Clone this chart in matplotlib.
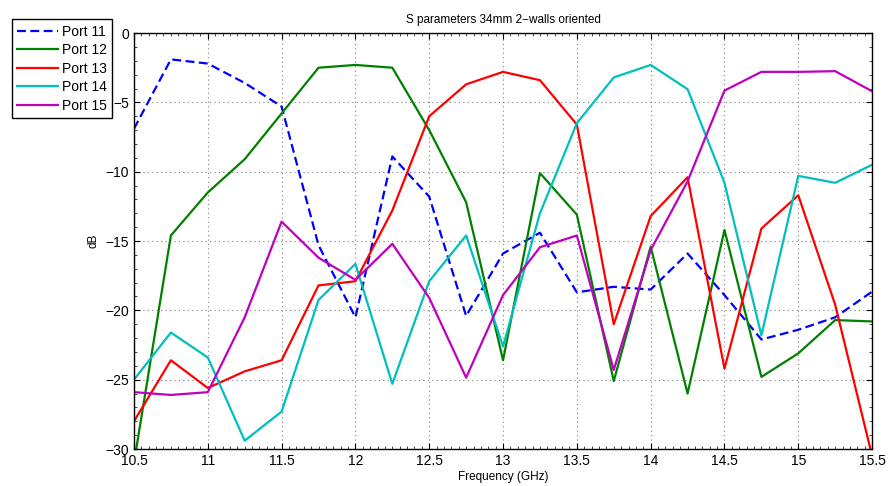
import matplotlib
matplotlib.use("Agg")
import matplotlib.pyplot as plt
from matplotlib.ticker import AutoMinorLocator

plt.rcParams["font.family"] = ["Liberation Sans", "DejaVu Sans"]

freq = [10.5, 10.75, 11, 11.25, 11.5, 11.75, 12, 12.25, 12.5, 12.75, 13,
        13.25, 13.5, 13.75, 14, 14.25, 14.5, 14.75, 15, 15.25, 15.5]

port11 = [-6.9, -1.9, -2.2, -3.6, -5.3, -15.3, -20.5, -8.9, -11.8, -20.4, -15.9,
          -14.4, -18.7, -18.3, -18.5, -15.9, -18.9, -22.1, -21.4, -20.5, -18.65]
port12 = [-31.0, -14.6, -11.5, -9.1, -5.8, -2.5, -2.3, -2.5, -7.0, -12.2, -23.6,
          -10.1, -13.1, -25.1, -15.4, -26.0, -14.2, -24.8, -23.1, -20.7, -20.8]
port13 = [-28.0, -23.6, -25.6, -24.4, -23.6, -18.2, -17.9, -12.8, -6.0, -3.7, -2.8,
          -3.4, -6.6, -21.0, -13.2, -10.4, -24.2, -14.1, -11.7, -19.6, -30.5]
port14 = [-25.0, -21.6, -23.4, -29.4, -27.3, -19.25, -16.65, -25.3, -17.9, -14.6, -22.6,
          -13.0, -6.5, -3.2, -2.3, -4.05, -10.8, -21.8, -10.3, -10.8, -9.5]
port15 = [-25.9, -26.1, -25.9, -20.5, -13.6, -16.2, -17.8, -15.2, -19.1, -24.85, -18.9,
          -15.45, -14.6, -24.3, -15.65, -10.7, -4.15, -2.8, -2.8, -2.75, -4.2]

x_ticks = [10.5, 11, 11.5, 12, 12.5, 13, 13.5, 14, 14.5, 15, 15.5]
y_ticks = [-30, -25, -20, -15, -10, -5, 0]

fig = plt.figure(figsize=(8.89, 4.86), dpi=100)
ax = fig.add_axes([0.1507, 0.0761, 0.8303, 0.8559])

ax.plot(freq, port11, color="#0000ff", lw=1.6, linestyle=(0, (4, 2)), label="Port 11")
ax.plot(freq, port12, color="#008000", lw=1.6, label="Port 12")
ax.plot(freq, port13, color="#ff0000", lw=1.6, label="Port 13")
ax.plot(freq, port14, color="#00bfbf", lw=1.6, label="Port 14")
ax.plot(freq, port15, color="#bf00bf", lw=1.6, label="Port 15")

ax.set_xlim(10.5, 15.5)
ax.set_ylim(-30, 0)
ax.set_xticks(x_ticks)
ax.set_xticklabels([f"{t:g}" for t in x_ticks])
ax.set_yticks(y_ticks)
ax.set_yticklabels([f"{t}".replace("-", "\u2212") for t in y_ticks])
ax.xaxis.set_minor_locator(AutoMinorLocator(10))
ax.yaxis.set_minor_locator(AutoMinorLocator(5))

ax.tick_params(which="both", direction="in", top=True, right=True,
               labelsize=10, color="black")
ax.tick_params(which="major", length=4, width=0.8)
ax.tick_params(which="minor", length=2, width=0.5)

ax.grid(True, which="major", linestyle=(0, (1, 3)), color="#808080", lw=0.8)
for spine in ax.spines.values():
    spine.set_linewidth(1.0)
    spine.set_color("black")

ax.set_title("S parameters 34mm 2\u2212walls oriented", fontsize=8.5, pad=7)
ax.set_xlabel("Frequency (GHz)", fontsize=8.5, labelpad=2)
ax.set_ylabel("dB", fontsize=8.5, labelpad=4)

leg = ax.legend(loc="upper left", bbox_to_anchor=(11.7 / 889, 1 - 19.3 / 486),
                bbox_transform=fig.transFigure, fontsize=10, fancybox=False,
                framealpha=1, edgecolor="black", handlelength=2.9,
                borderpad=0.4, labelspacing=0.32, handletextpad=0.3,
                borderaxespad=0)
leg.get_frame().set_linewidth(1.0)

fig.savefig("out.png", dpi=100)
